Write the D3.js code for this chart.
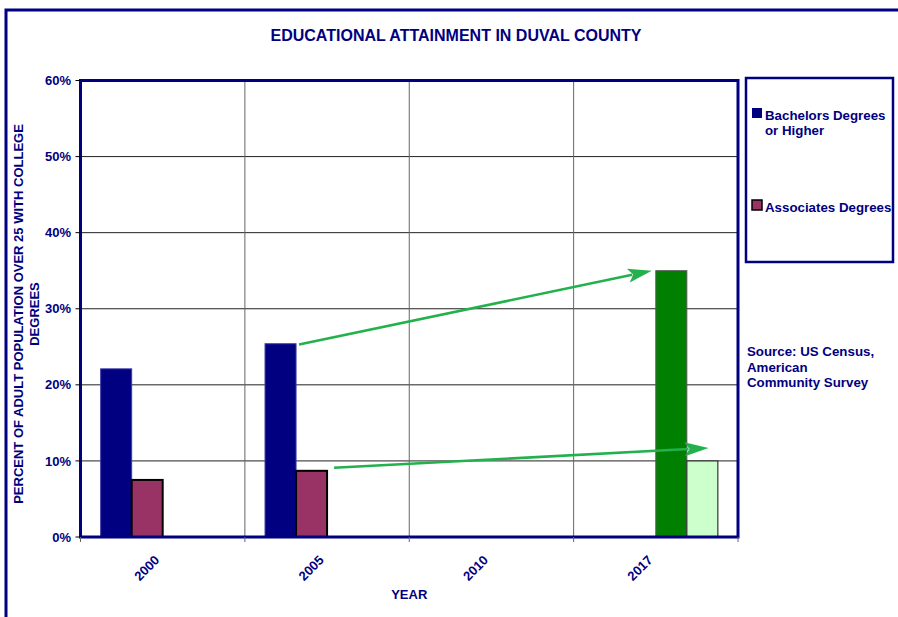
<!DOCTYPE html>
<html><head><meta charset="utf-8">
<script src="https://cdn.jsdelivr.net/npm/d3@7"></script>
<style>
body{margin:0;background:#fff}
text{font-family:"Liberation Sans",Arial,sans-serif;font-weight:bold;fill:#000080}
</style>
</head><body><svg id="c" width="898" height="617"></svg>
<script>
const title = "EDUCATIONAL ATTAINMENT IN DUVAL COUNTY";
const years = ["2000", "2005", "2010", "2017"];
const seriesKeys = ["bachelors", "associates", "bachelors2017", "associates2017"];
const bachelors = [22.1, 25.4, null, null];
const associates = [7.5, 8.7, null, null];
const bachelors2017 = [null, null, null, 35.0];
const associates2017 = [null, null, null, 10.0];
const yTicks = [0, 10, 20, 30, 40, 50, 60];
const legendLabels = [["Bachelors Degrees", "or Higher"], ["Associates Degrees"]];
const sourceLines = ["Source: US Census,", "American", "Community Survey"];
const yTitleLines = ["PERCENT OF ADULT POPULATION OVER 25 WITH COLLEGE", "DEGREES"];
const xTitle = "YEAR";
const arrowFrom = [{year: "2005", key: "bachelors", val: 25.3}, {year: "2005", key: "associates", val: 9.1}];
const arrowTo = [{year: "2017", key: "bachelors2017", val: 35.0}, {year: "2017", key: "associates2017", val: 11.7}];

const seriesValues = {bachelors, associates, bachelors2017, associates2017};
const styles = {
  bachelors: {fill: "#000080", stroke: "#3a3aa8", sw: 1},
  associates: {fill: "#993366", stroke: "#000", sw: 2},
  bachelors2017: {fill: "#008000", stroke: "#555", sw: 1},
  associates2017: {fill: "#CCFFCC", stroke: "#333", sw: 1.2}
};
const NAVY = "#000080";
const svg = d3.select("#c");
const L = 80.5, R = 738, T = 80.5, B = 537;

const x0 = d3.scaleBand().domain(years).range([L, R]).padding(0);
const x1 = d3.scaleBand().domain(seriesKeys).range([0, x0.bandwidth()]).paddingInner(0).paddingOuter(0.65);
const y = d3.scaleLinear().domain([0, 60]).range([B, T]);
const bw = x1.bandwidth();

// outer frame
svg.append("path").attr("d", `M6,617V10H898`).attr("fill", "none").attr("stroke", NAVY).attr("stroke-width", 3);

// title
svg.append("text").attr("x", 456).attr("y", 41).attr("text-anchor", "middle")
  .style("font-size", "16px").text(title);

// gridlines
svg.append("g").selectAll("line").data(yTicks.filter(d => d > 0 && d < 60)).join("line")
  .attr("x1", L).attr("x2", R).attr("y1", d => y(d)).attr("y2", d => y(d))
  .attr("stroke", "#222").attr("stroke-width", 1);
svg.append("g").selectAll("line").data(years.slice(1)).join("line")
  .attr("x1", d => x0(d)).attr("x2", d => x0(d)).attr("y1", T).attr("y2", B)
  .attr("stroke", "#666").attr("stroke-width", 1);

// bars
const barData = [];
years.forEach((yr, i) => seriesKeys.forEach(k => {
  const v = seriesValues[k][i];
  if (v != null) barData.push({yr, k, v});
}));
svg.append("g").selectAll("rect").data(barData).join("rect")
  .attr("x", d => x0(d.yr) + x1(d.k)).attr("width", bw)
  .attr("y", d => y(d.v)).attr("height", d => y(0) - y(d.v))
  .attr("fill", d => styles[d.k].fill).attr("stroke", d => styles[d.k].stroke)
  .attr("stroke-width", d => styles[d.k].sw);

// plot frame
svg.append("rect").attr("x", L).attr("y", T).attr("width", R - L).attr("height", B - T)
  .attr("fill", "none").attr("stroke", NAVY).attr("stroke-width", 3);

// y axis ticks + labels
const yAx = svg.append("g");
yAx.selectAll("line").data(yTicks).join("line")
  .attr("x1", L - 5).attr("x2", L).attr("y1", d => y(d)).attr("y2", d => y(d))
  .attr("stroke", "#000").attr("stroke-width", 1);
yAx.selectAll("text").data(yTicks).join("text")
  .attr("x", 71).attr("y", d => y(d) + 4.6).attr("text-anchor", "end")
  .style("font-size", "13px").text(d => d + "%");

// x axis ticks + labels
const xAx = svg.append("g");
xAx.selectAll("line").data(years.concat(["end"])).join("line")
  .attr("x1", (d, i) => i < years.length ? x0(d) : R).attr("x2", (d, i) => i < years.length ? x0(d) : R)
  .attr("y1", B).attr("y2", B + 5).attr("stroke", "#666").attr("stroke-width", 1);
xAx.selectAll("text").data(years).join("text")
  .attr("transform", d => `translate(${x0(d) + x0.bandwidth() / 2 - 2.5},${B + 24}) rotate(-45)`)
  .attr("text-anchor", "end").style("font-size", "13px").text(d => d);

svg.append("text").attr("x", (L + R) / 2).attr("y", 599).attr("text-anchor", "middle")
  .style("font-size", "13px").text(xTitle);

// y title
svg.append("g").selectAll("text").data(yTitleLines).join("text")
  .attr("transform", (d, i) => `translate(${22.7 + i * 16},314) rotate(-90)`)
  .attr("text-anchor", "middle").style("font-size", "13px").text(d => d);

// legend
svg.append("rect").attr("x", 746).attr("y", 78).attr("width", 147).attr("height", 184)
  .attr("fill", "#fff").attr("stroke", NAVY).attr("stroke-width", 2.5);
const legY = [108, 200];
const legKeys = ["bachelors", "associates"];
legKeys.forEach((k, i) => {
  svg.append("rect").attr("x", 752).attr("y", legY[i]).attr("width", 10).attr("height", 10)
    .attr("fill", styles[k].fill).attr("stroke", k === "associates" ? "#000" : "none").attr("stroke-width", 1.5);
  svg.append("g").selectAll("text").data(legendLabels[i]).join("text")
    .attr("x", 765).attr("y", (d, j) => legY[i] + 12 + j * 15).style("font-size", "13.3px").text(d => d);
});

// source
svg.append("g").selectAll("text").data(sourceLines).join("text")
  .attr("x", 747).attr("y", (d, i) => 356 + i * 15.6).style("font-size", "13.3px").text(d => d);

// arrows
const AC = "#22b14c";
function pt(a, isFrom, idx) {
  let xx;
  if (idx === 0) xx = isFrom ? x0(a.year) + x1(a.key) + bw + 3 : x0(a.year) + x1(a.key) - 4;
  else xx = isFrom ? x0(a.year) + x1(a.key) + bw + 7 : x0(a.year) + x1(a.key) + bw * 0.7;
  return [xx, y(a.val)];
}
arrowFrom.forEach((f, i) => {
  const p0 = pt(f, true, i), p1 = pt(arrowTo[i], false, i);
  const dx = p1[0] - p0[0], dy = p1[1] - p0[1];
  const len = Math.hypot(dx, dy), ux = dx / len, uy = dy / len;
  const hl = 24, hw = 7;
  const bx = p1[0] - ux * hl, by = p1[1] - uy * hl;
  svg.append("line").attr("x1", p0[0]).attr("y1", p0[1]).attr("x2", bx + ux * 4).attr("y2", by + uy * 4)
    .attr("stroke", AC).attr("stroke-width", 2.6);
  const nx = -uy, ny = ux;
  svg.append("path")
    .attr("d", `M${p1[0]},${p1[1]}L${bx + nx * hw},${by + ny * hw}L${bx + ux * 5},${by + uy * 5}L${bx - nx * hw},${by - ny * hw}Z`)
    .attr("fill", AC);
});
</script>
</body></html>
